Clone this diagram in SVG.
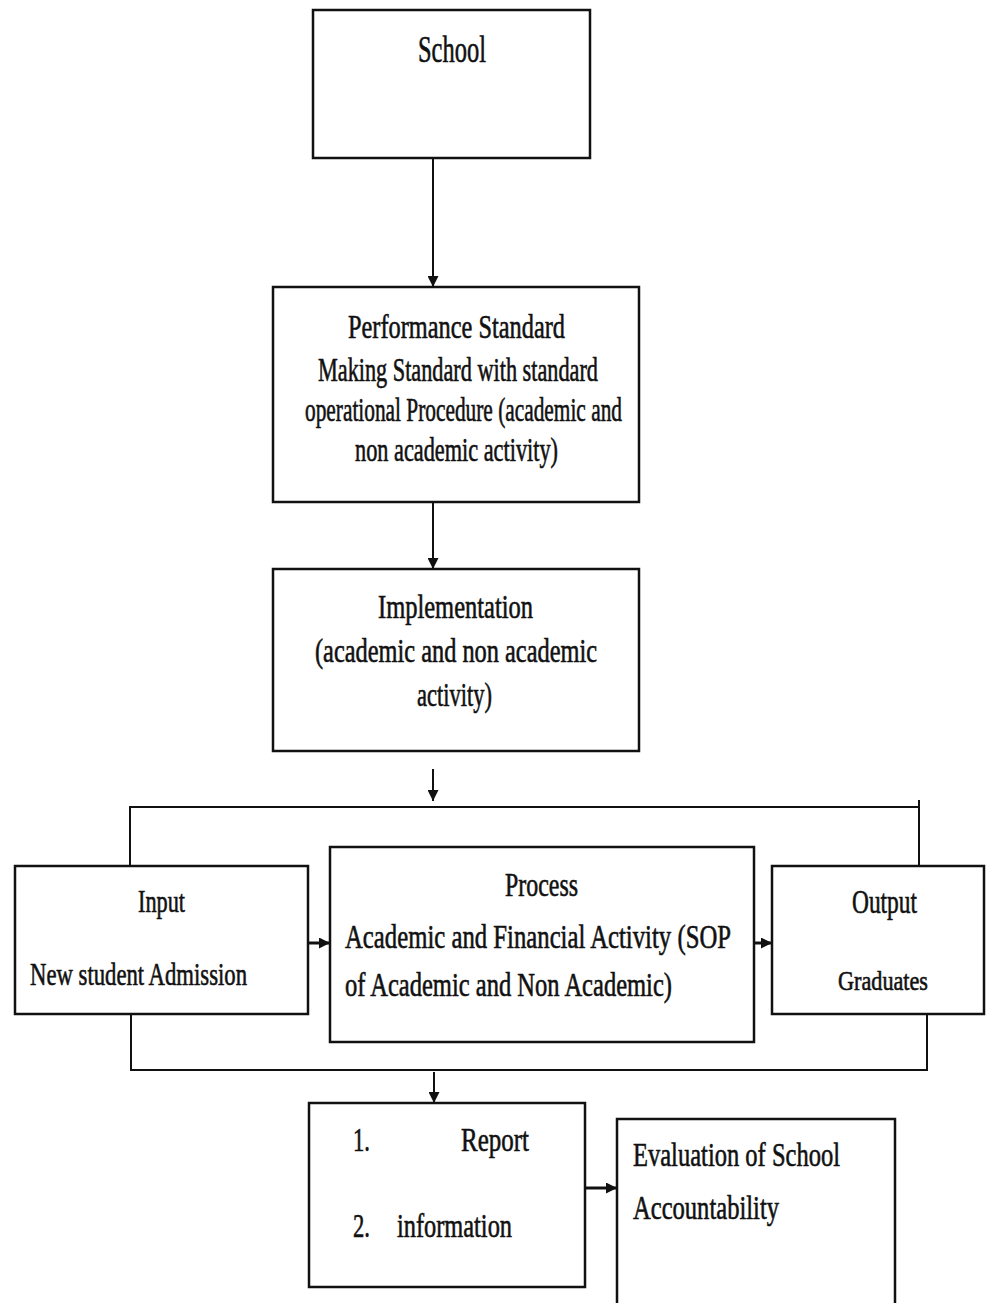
<svg xmlns="http://www.w3.org/2000/svg" width="989" height="1303" viewBox="0 0 989 1303">
<defs>
<style>
.box{fill:#fff;stroke:#111;stroke-width:2.5}
.ln{fill:none;stroke:#111;stroke-width:2}
.t{font-family:"Liberation Serif","Times New Roman",serif;font-size:33px;fill:#111;stroke:#111;stroke-width:0.6}
</style>
<marker id="ah" viewBox="0 0 10 10" refX="10" refY="5" markerWidth="11" markerHeight="11" markerUnits="userSpaceOnUse" orient="auto">
<path d="M0,0 L10,5 L0,10 z" fill="#111"/>
</marker>
</defs>
<rect width="989" height="1303" fill="#fff"/>
<g id="connectors">
<line class="ln" x1="433" y1="158" x2="433" y2="287" marker-end="url(#ah)"/>
<line class="ln" x1="433" y1="502" x2="433" y2="569" marker-end="url(#ah)"/>
<line class="ln" x1="433" y1="769" x2="433" y2="801" marker-end="url(#ah)"/>
<path class="ln" d="M130,866 V807 H919"/>
<line class="ln" x1="919" y1="800" x2="919" y2="866"/>
<line class="ln" x1="308" y1="943" x2="330" y2="943" marker-end="url(#ah)" style="stroke-width:3"/>
<line class="ln" x1="754" y1="943" x2="772" y2="943" marker-end="url(#ah)" style="stroke-width:3"/>
<path class="ln" d="M131,1014 V1070 H927 V1014"/>
<line class="ln" x1="434" y1="1072" x2="434" y2="1103" marker-end="url(#ah)"/>
<line class="ln" x1="585" y1="1188" x2="617" y2="1188" marker-end="url(#ah)" style="stroke-width:3"/>
</g>
<g id="school">
<rect class="box" x="313" y="10" width="277" height="148"/>
<text class="t" x="418" y="62" style="font-size:37px" textLength="68" lengthAdjust="spacingAndGlyphs">School</text>
</g>
<g id="performance">
<rect class="box" x="273" y="287" width="366" height="215"/>
<text class="t" x="348" y="338" style="font-size:34px" textLength="217" lengthAdjust="spacingAndGlyphs">Performance Standard</text>
<text class="t" x="318" y="381" textLength="280" lengthAdjust="spacingAndGlyphs">Making Standard with standard</text>
<text class="t" x="305" y="421" textLength="317" lengthAdjust="spacingAndGlyphs">operational Procedure (academic and</text>
<text class="t" x="355" y="461" textLength="203" lengthAdjust="spacingAndGlyphs">non academic activity)</text>
</g>
<g id="implementation">
<rect class="box" x="273" y="569" width="366" height="182"/>
<text class="t" x="378" y="618" textLength="155" lengthAdjust="spacingAndGlyphs">Implementation</text>
<text class="t" x="315" y="662" textLength="282" lengthAdjust="spacingAndGlyphs">(academic and non academic</text>
<text class="t" x="417" y="706" textLength="75" lengthAdjust="spacingAndGlyphs">activity)</text>
</g>
<g id="input">
<rect class="box" x="15" y="866" width="293" height="148"/>
<text class="t" x="138" y="912" style="font-size:31px" textLength="47" lengthAdjust="spacingAndGlyphs">Input</text>
<text class="t" x="30" y="985" style="font-size:31px" textLength="217" lengthAdjust="spacingAndGlyphs">New student Admission</text>
</g>
<g id="process">
<rect class="box" x="330" y="847" width="424" height="195"/>
<text class="t" x="505" y="896" textLength="73" lengthAdjust="spacingAndGlyphs">Process</text>
<text class="t" x="345" y="948" textLength="386" lengthAdjust="spacingAndGlyphs">Academic and Financial Activity  (SOP</text>
<text class="t" x="345" y="996" textLength="327" lengthAdjust="spacingAndGlyphs">of Academic and  Non Academic)</text>
</g>
<g id="output">
<rect class="box" x="772" y="866" width="212" height="148"/>
<text class="t" x="852" y="913" textLength="65" lengthAdjust="spacingAndGlyphs">Output</text>
<text class="t" x="838" y="990" style="font-size:28px" textLength="90" lengthAdjust="spacingAndGlyphs">Graduates</text>
</g>
<g id="report">
<rect class="box" x="309" y="1103" width="276" height="184"/>
<text class="t" x="353" y="1151" style="font-size:34px" textLength="17" lengthAdjust="spacingAndGlyphs">1.</text>
<text class="t" x="461" y="1151" style="font-size:34px" textLength="68" lengthAdjust="spacingAndGlyphs">Report</text>
<text class="t" x="353" y="1237" style="font-size:34px" textLength="17" lengthAdjust="spacingAndGlyphs">2.</text>
<text class="t" x="397" y="1237" style="font-size:34px" textLength="115" lengthAdjust="spacingAndGlyphs">information</text>
</g>
<g id="evaluation">
<rect class="box" x="617" y="1119" width="278" height="200"/>
<text class="t" x="633" y="1166" style="font-size:34px" textLength="207" lengthAdjust="spacingAndGlyphs">Evaluation of School</text>
<text class="t" x="633" y="1219" style="font-size:34px" textLength="146" lengthAdjust="spacingAndGlyphs">Accountability</text>
</g>
</svg>
